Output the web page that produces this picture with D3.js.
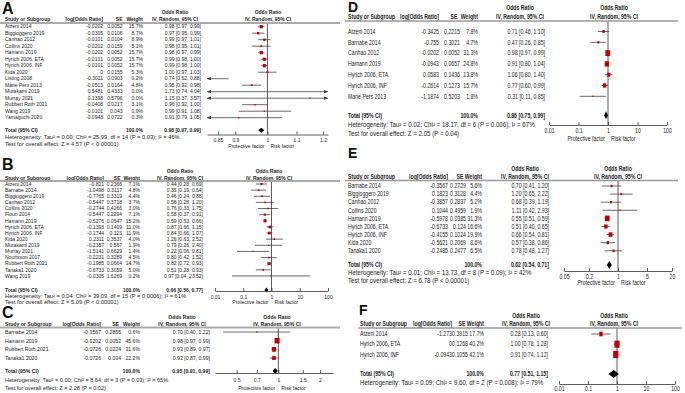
<!DOCTYPE html>
<html>
<head>
<meta charset="utf-8">
<script src="https://cdn.jsdelivr.net/npm/d3@7"></script>
<style>
body { margin: 0; background: #fff; }
svg { display: block; }
text { font-family: "Liberation Sans", Arial, sans-serif; fill: #222; }
</style>
</head>
<body>
<div id="chart"></div>
<script>
// ---- Panel A ----
const studiesA = ["Atzeni 2014", "Biggioggero 2019", "Canhao 2012", "Collins 2020", "Hamann 2019", "Hyrich 2006, ETA", "Hyrich 2006, INF", "Kida 2020", "Listing 2008", "Marie Pers 2013", "Murakami 2019", "Murray 2021", "Rubbert Roth 2021", "Wang 2019", "Yamaguchi 2020"];
const logOrA = [-0.0202, -0.0305, -0.0101, -0.0202, -0.0202, -0.0101, -0.0101, 0, -0.3011, -0.0513, 0.5481, 0.1398, -0.0408, -0.0101, -0.0943];
const seA = [0.0052, 0.0106, 0.0104, 0.0159, 0.0052, 0.0052, 0.0052, 0.0155, 0.0903, 0.0164, 0.4333, 0.5796, 0.0217, 0.043, 0.0722];
const weightA = [15.7, 8.7, 8.9, 5.1, 15.7, 15.7, 15.7, 5.3, 0.2, 4.8, 0.0, 0.0, 3.1, 0.9, 0.3];
const orA = [0.98, 0.97, 0.99, 0.98, 0.98, 0.99, 0.99, 1.00, 0.74, 0.95, 1.73, 1.15, 0.96, 0.99, 0.91];
const lowA = [0.97, 0.95, 0.97, 0.95, 0.97, 0.98, 0.98, 0.97, 0.62, 0.92, 0.74, 0.37, 0.92, 0.91, 0.79];
const highA = [0.99, 0.99, 1.01, 1.01, 0.99, 1.00, 1.00, 1.03, 0.88, 0.98, 4.04, 3.57, 1.00, 1.08, 1.05];
const totalA = [0.98, 0.97, 0.99];
const hetA = "Heterogeneity: Tau² = 0.00; Chi² = 25.99, df = 14 (P = 0.03); I² = 46%";
const testA = "Test for overall effect: Z = 4.57 (P < 0.00001)";
const ticksA = [0.85, 0.9, 1, 1.1, 1.2];

// ---- Panel B ----
const studiesB = ["Atzeni 2014", "Barnabe 2014", "Biggioggero 2019", "Canhao 2012", "Collins 2020", "Flouri 2014", "Hamann 2019", "Hyrich 2006, ETA", "Hyrich 2006, INF", "Kida 2020", "Murakami 2019", "Murray 2021", "Nourisson 2017", "Rubbert Roth 2021", "Tanaka1 2020", "Wang 2019"];
const logOrB = [-0.821, -1.0498, -0.7765, -0.5447, -0.2744, -0.5447, -0.5276, -0.1393, -0.1744, 0.2311, -0.2357, -1.5141, -0.2231, -0.1985, -0.6733, -0.0305];
const seB = [0.2366, 0.3117, 0.3319, 0.3718, 0.4266, 0.2294, 0.0547, 0.1409, 0.123, 0.3537, 0.567, 0.6629, 0.3289, 0.0664, 0.3059, 1.6269];
const weightB = [7.1, 4.8, 4.4, 3.7, 3.0, 7.1, 15.2, 11.0, 11.9, 4.0, 1.9, 1.4, 4.5, 14.7, 5.0, 0.2];
const orB = [0.44, 0.35, 0.46, 0.58, 0.76, 0.58, 0.59, 0.87, 0.84, 1.26, 0.79, 0.22, 0.80, 0.82, 0.51, 0.97];
const lowB = [0.28, 0.19, 0.24, 0.28, 0.33, 0.37, 0.53, 0.66, 0.66, 0.63, 0.26, 0.06, 0.42, 0.72, 0.28, 0.04];
const highB = [0.69, 0.64, 0.88, 1.20, 1.75, 0.91, 0.66, 1.15, 1.07, 2.52, 2.40, 0.81, 1.52, 0.93, 0.93, 23.52];
const totalB = [0.66, 0.56, 0.77];
const hetB = "Heterogeneity: Tau² = 0.04; Chi² = 39.09, df = 15 (P = 0.0006); I² = 61%";
const testB = "Test for overall effect: Z = 5.09 (P < 0.00001)";
const ticksB = [0.01, 0.1, 1, 10, 100];

// ---- Panel C ----
const studiesC = ["Barnabe 2014", "Hamann 2019", "Rubbert Roth 2021", "Tanaka1 2020"];
const logOrC = [-0.3567, -0.0202, -0.0726, -0.0726];
const seC = [0.2855, 0.0052, 0.0224, 0.034];
const weightC = [0.6, 45.6, 31.6, 22.2];
const orC = [0.70, 0.98, 0.93, 0.93];
const lowC = [0.40, 0.97, 0.89, 0.87];
const highC = [1.22, 0.99, 0.97, 0.99];
const totalC = [0.95, 0.91, 0.99];
const hetC = "Heterogeneity: Tau² = 0.00; Chi² = 8.64, df = 3 (P = 0.03); I² = 65%";
const testC = "Test for overall effect: Z = 2.28 (P = 0.02)";
const ticksC = [0.5, 0.7, 1, 1.5, 2];

// ---- Panel D ----
const studiesD = ["Atzeni 2014", "Barnabe 2014", "Canhao 2012", "Hamann 2019", "Hyrich 2006, ETA", "Hyrich 2006, INF", "Marie Pers 2013"];
const logOrD = [-0.3425, -0.755, -0.0202, -0.0943, 0.0583, -0.2614, -1.1874];
const seD = [0.2215, 0.3021, 0.0052, 0.0657, 0.1436, 0.1273, 0.5203];
const weightD = [7.8, 4.7, 31.3, 24.8, 13.8, 15.7, 1.8];
const orD = [0.71, 0.47, 0.98, 0.91, 1.06, 0.77, 0.31];
const lowD = [0.46, 0.26, 0.97, 0.80, 0.80, 0.60, 0.11];
const highD = [1.10, 0.85, 0.99, 1.04, 1.40, 0.99, 0.85];
const totalD = [0.86, 0.75, 0.99];
const hetD = "Heterogeneity: Tau² = 0.02; Chi² = 18.17, df = 6 (P = 0.006); I² = 67%";
const testD = "Test for overall effect: Z = 2.05 (P = 0.04)";
const ticksD = [0.01, 0.1, 1, 10, 100];

// ---- Panel E ----
const studiesE = ["Barnabe 2014", "Biggioggero 2019", "Canhao 2012", "Collins 2020", "Hamann 2019", "Hyrich 2006, ETA", "Hyrich 2006, INF", "Kida 2020", "Tanaka1 2020"];
const logOrE = [-0.3567, 0.1823, -0.3857, 0.1044, -0.5978, -0.6733, -0.4155, -0.5621, -0.2485];
const seE = [0.2729, 0.3128, 0.2837, 0.4959, 0.0385, 0.124, 0.1024, 0.2069, 0.2477];
const weightE = [5.6, 4.4, 5.2, 1.9, 31.3, 16.6, 19.9, 8.6, 6.5];
const orE = [0.70, 1.20, 0.68, 1.11, 0.55, 0.51, 0.66, 0.57, 0.78];
const lowE = [0.41, 0.65, 0.39, 0.42, 0.51, 0.40, 0.54, 0.38, 0.48];
const highE = [1.20, 2.22, 1.19, 2.93, 0.59, 0.65, 0.81, 0.86, 1.27];
const totalE = [0.62, 0.54, 0.71];
const hetE = "Heterogeneity: Tau² = 0.01; Chi² = 13.73, df = 8 (P = 0.09); I² = 42%";
const testE = "Test for overall effect: Z = 6.78 (P < 0.00001)";
const ticksE = [0.05, 0.2, 1, 5, 20];

// ---- Panel F ----
const studiesF = ["Atzeni 2014", "Hyrich 2006, ETA", "Hyrich 2006, INF"];
const logOrF = [-1.273, 0, -0.0943];
const seF = [0.3915, 0.1268, 0.1055];
const weightF = [17.7, 40.2, 42.1];
const orF = [0.28, 1.00, 0.91];
const lowF = [0.13, 0.78, 0.74];
const highF = [0.60, 1.28, 1.12];
const totalF = [0.77, 0.51, 1.15];
const hetF = "Heterogeneity: Tau² = 0.09; Chi² = 9.60, df = 2 (P = 0.008); I² = 79%";
const ticksF = [0.01, 0.1, 1, 10, 100];

const width = 685, height = 393;

const svg = d3.select("#chart").append("svg")
    .attr("width", width)
    .attr("height", height);

function txt(g, x, y, s, o) {
    return g.append("text")
        .attr("transform", `translate(${x},${y}) scale(${o.sx || 1},1)`)
        .attr("dy", "0.35em")
        .attr("text-anchor", o.anchor || "start")
        .attr("font-size", o.fs)
        .attr("font-weight", o.bold ? "bold" : null)
        .text(s);
}

const fmtCI = (m, l, h) => `${m.toFixed(2)} [${l.toFixed(2)}, ${h.toFixed(2)}]`;

function drawPanel(p, d) {
    const g = svg.append("g");
    const t = {fs: p.fs, sx: p.sx};
    const foot = {fs: p.fs, sx: p.sx * p.footSx};
    const c = p.cols;

    // panel letter
    g.append("text")
        .attr("x", p.lx).attr("y", p.ly)
        .attr("font-size", p.lsize).attr("font-weight", "bold")
        .style("fill", "#111")
        .text(p.letter);

    // headers
    txt(g, c.ciHead, p.h1y, "Odds Ratio", {...t, anchor: "middle", bold: true});
    txt(g, p.plotHead, p.h1y, "Odds Ratio", {...t, anchor: "middle", bold: true});
    txt(g, c.study, p.h2y, "Study or Subgroup", {...t, bold: true});
    txt(g, c.log, p.h2y, "log[Odds Ratio]", {...t, anchor: "end", bold: true});
    txt(g, c.se + p.seHeadDx, p.h2y, "SE", {...t, anchor: "end", bold: true});
    txt(g, c.w, p.h2y, "Weight", {...t, anchor: "end", bold: true});
    txt(g, c.ciHead, p.h2y, "IV, Random, 95% CI", {...t, anchor: "middle", bold: true});
    txt(g, p.plotHead, p.h2y, "IV, Random, 95% CI", {...t, anchor: "middle", bold: true});

    g.append("line")
        .attr("x1", p.lineX[0]).attr("x2", p.lineX[1])
        .attr("y1", p.lineY).attr("y2", p.lineY)
        .attr("stroke", p.lineColor).attr("stroke-width", p.lineW);

    const x = d3.scaleLog().domain(p.domain).range(p.range);
    const y = i => p.rowY + i * p.rowDy;

    // null line
    g.append("line")
        .attr("x1", x(1)).attr("x2", x(1))
        .attr("y1", p.lineY + p.lineW / 2).attr("y2", p.axisY)
        .attr("stroke", "#333").attr("stroke-width", 0.8);

    d.studies.forEach((s, i) => {
        const yy = y(i);
        txt(g, c.study, yy, s, t);
        txt(g, c.log, yy, String(d.logOr[i]), {...t, anchor: "end"});
        txt(g, c.se, yy, String(d.se[i]), {...t, anchor: "end"});
        txt(g, c.w, yy, d.weight[i].toFixed(1) + "%", {...t, anchor: "end"});
        txt(g, c.ci, yy, fmtCI(d.or[i], d.low[i], d.high[i]), {...t, anchor: "end"});

        // confidence interval, arrows where it runs off the scale
        const xl = Math.max(x(d.low[i]), p.range[0]);
        const xh = Math.min(x(d.high[i]), p.range[1]);
        g.append("line")
            .attr("x1", xl).attr("x2", xh)
            .attr("y1", yy).attr("y2", yy)
            .attr("stroke", "#444").attr("stroke-width", 0.8);
        if (x(d.low[i]) < p.range[0]) {
            g.append("path")
                .attr("d", `M${xl},${yy} l4,-1.6 l0,3.2 z`)
                .attr("fill", "#333");
        }
        if (x(d.high[i]) > p.range[1]) {
            g.append("path")
                .attr("d", `M${xh},${yy} l-4,-1.6 l0,3.2 z`)
                .attr("fill", "#333");
        }
        // weight box
        const xm = x(d.or[i]);
        if (xm >= p.range[0] && xm <= p.range[1]) {
            const bw = Math.max(p.boxK * Math.sqrt(d.weight[i]), 1.2);
            const bh = bw * p.boxSy;
            g.append("rect")
                .attr("x", xm - bw / 2).attr("y", yy - bh / 2)
                .attr("width", bw).attr("height", bh)
                .attr("fill", "#c00000");
        }
    });

    // total row
    txt(g, c.study, p.totalY, "Total (95% CI)", {...t, bold: true});
    txt(g, c.w, p.totalY, "100.0%", {...t, anchor: "end", bold: true});
    txt(g, c.ci, p.totalY, fmtCI(d.total[0], d.total[1], d.total[2]), {...t, anchor: "end", bold: true});
    const hd = p.diaH / 2;
    g.append("path")
        .attr("d", `M${x(d.total[1])},${p.totalY} L${x(d.total[0])},${p.totalY - hd} L${x(d.total[2])},${p.totalY} L${x(d.total[0])},${p.totalY + hd} Z`)
        .attr("fill", "#000");

    txt(g, c.study, p.hetY, d.het, foot);
    if (d.test) txt(g, c.study, p.testY, d.test, foot);

    // axis
    const axis = d3.axisBottom(x)
        .tickValues(d.ticks)
        .tickFormat(v => String(v))
        .tickSizeInner(-3)
        .tickSizeOuter(0)
        .tickPadding(p.tickC - p.axisY - 0.35 * p.fs);
    const ag = g.append("g")
        .attr("transform", `translate(0,${p.axisY})`)
        .call(axis)
        .attr("font-size", p.fs)
        .attr("font-family", null);
    ag.select(".domain").attr("stroke", "#333").attr("stroke-width", 0.8);
    ag.selectAll(".tick line").attr("stroke", "#333").attr("stroke-width", 0.8);
    ag.selectAll(".tick text").style("fill", "#222").attr("transform", `scale(${p.sx},1)`);

    txt(g, x(1) - 3, p.factorY, "Protective factor", {...t, anchor: "end"});
    txt(g, x(1) + 3, p.factorY, "Risk factor", t);
}

drawPanel({
    letter: "A", lx: 2, ly: 14, lsize: 16, fs: 5, sx: 1, footSx: 1.15, seHeadDx: 0,
    h1y: 12, h2y: 19, lineY: 23, lineX: [0, 340], lineColor: "#aaa", lineW: 1.8,
    rowY: 26.7, rowDy: 6.5, totalY: 130.3, hetY: 137.3, testY: 144.3,
    cols: {study: 5, log: 103, se: 122.5, w: 143, ci: 201, ciHead: 175},
    domain: [0.82, 1.22], range: [207, 328], plotHead: 268,
    axisY: 134.5, tickC: 140.5, factorY: 146.5,
    boxK: 0.8, boxSy: 1, diaH: 5
}, {studies: studiesA, logOr: logOrA, se: seA, weight: weightA, or: orA, low: lowA, high: highA,
    total: totalA, het: hetA, test: testA, ticks: ticksA});

drawPanel({
    letter: "B", lx: 2, ly: 170, lsize: 16, fs: 5, sx: 1, footSx: 1.15, seHeadDx: -1.5,
    h1y: 171, h2y: 178, lineY: 181, lineX: [0, 340], lineColor: "#aaa", lineW: 1.8,
    rowY: 184, rowDy: 6.13, totalY: 290, hetY: 296.3, testY: 302.3,
    cols: {study: 5, log: 104, se: 122, w: 140, ci: 203, ciHead: 180},
    domain: [0.01, 100], range: [215, 328], plotHead: 269,
    axisY: 291, tickC: 297, factorY: 302.7,
    boxK: 0.8, boxSy: 1, diaH: 5
}, {studies: studiesB, logOr: logOrB, se: seB, weight: weightB, or: orB, low: lowB, high: highB,
    total: totalB, het: hetB, test: testB, ticks: ticksB});

drawPanel({
    letter: "C", lx: 2, ly: 318, lsize: 16, fs: 5.6, sx: 0.92, footSx: 1.08, seHeadDx: -2,
    h1y: 317, h2y: 324, lineY: 327.5, lineX: [0, 340], lineColor: "#aaa", lineW: 1.8,
    rowY: 332, rowDy: 8.67, totalY: 371, hetY: 380, testY: 388,
    cols: {study: 5, log: 101, se: 121, w: 140, ci: 210, ciHead: 182},
    domain: [0.349, 2.48], range: [215, 333], plotHead: 277,
    axisY: 373, tickC: 380, factorY: 388,
    boxK: 0.75, boxSy: 1.1, diaH: 6
}, {studies: studiesC, logOr: logOrC, se: seC, weight: weightC, or: orC, low: lowC, high: highC,
    total: totalC, het: hetC, test: testC, ticks: ticksC});

drawPanel({
    letter: "D", lx: 348, ly: 12, lsize: 14, fs: 6.5, sx: 0.8, footSx: 1.18, seHeadDx: -2.5,
    h1y: 8.2, h2y: 16.8, lineY: 21, lineX: [345, 678], lineColor: "#999", lineW: 1.4,
    rowY: 31.5, rowDy: 10.8, totalY: 115.3, hetY: 124.7, testY: 134,
    cols: {study: 348, log: 439, se: 460, w: 478, ci: 545, ciHead: 520},
    domain: [0.01, 100], range: [549, 667], plotHead: 614,
    axisY: 125, tickC: 131, factorY: 139,
    boxK: 0.85, boxSy: 1.25, diaH: 8
}, {studies: studiesD, logOr: logOrD, se: seD, weight: weightD, or: orD, low: lowD, high: highD,
    total: totalD, het: hetD, test: testD, ticks: ticksD});

drawPanel({
    letter: "E", lx: 348, ly: 158, lsize: 14, fs: 6.5, sx: 0.8, footSx: 1.18, seHeadDx: -2.5,
    h1y: 169, h2y: 177, lineY: 180.5, lineX: [345, 678], lineColor: "#999", lineW: 1.4,
    rowY: 186, rowDy: 8.1, totalY: 265, hetY: 273, testY: 281,
    cols: {study: 348, log: 448, se: 466, w: 482, ci: 549, ciHead: 525},
    domain: [0.05, 20], range: [564, 672], plotHead: 618,
    axisY: 271, tickC: 277, factorY: 283,
    boxK: 0.85, boxSy: 1.2, diaH: 8
}, {studies: studiesE, logOr: logOrE, se: seE, weight: weightE, or: orE, low: lowE, high: highE,
    total: totalE, het: hetE, test: testE, ticks: ticksE});

drawPanel({
    letter: "F", lx: 359, ly: 315, lsize: 14, fs: 6.5, sx: 0.8, footSx: 1.18, seHeadDx: -2.5,
    h1y: 315.5, h2y: 323.5, lineY: 328, lineX: [358, 682], lineColor: "#999", lineW: 1.4,
    rowY: 334, rowDy: 10.2, totalY: 374, hetY: 383, testY: null,
    cols: {study: 360, log: 452, se: 468, w: 484, ci: 548, ciHead: 526},
    domain: [0.01, 100], range: [559, 675], plotHead: 614,
    axisY: 384, tickC: 389, factorY: 398,
    boxK: 0.8, boxSy: 1.4, diaH: 8
}, {studies: studiesF, logOr: logOrF, se: seF, weight: weightF, or: orF, low: lowF, high: highF,
    total: totalF, het: hetF, test: null, ticks: ticksF});
</script>
</body>
</html>
